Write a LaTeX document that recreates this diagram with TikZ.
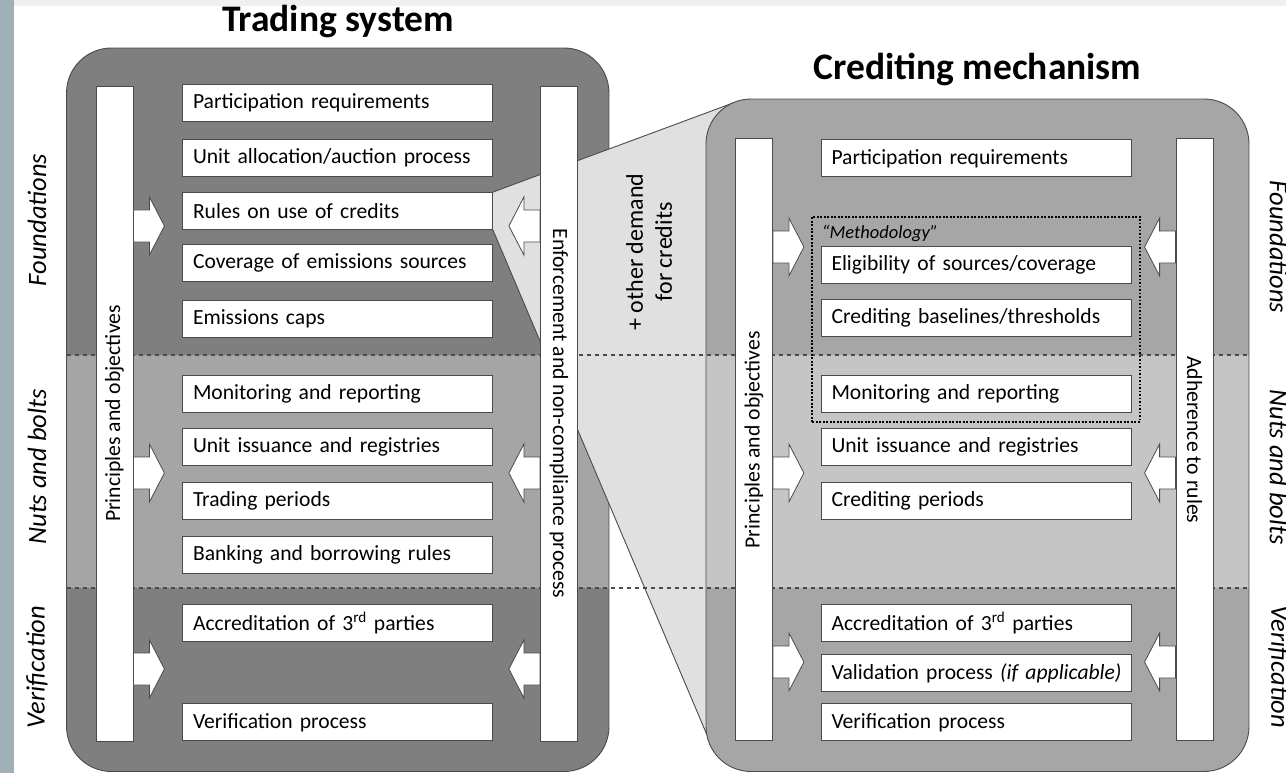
\documentclass[tikz,border=0pt]{standalone}
\usepackage{xcolor}
\usepackage{fontspec}
\setmainfont{Carlito}
\usepackage{tikz}

\definecolor{sideblue}{HTML}{9FB1B7}
\definecolor{topgrey}{HTML}{F0F0F0}
\definecolor{tsdark}{HTML}{7F7F7F}
\definecolor{tsmid}{HTML}{A5A5A5}
\definecolor{cmdark}{HTML}{A6A6A6}
\definecolor{cmlight}{HTML}{C5C5C5}
\definecolor{wedgegrey}{HTML}{E0E0E0}
\definecolor{lineg}{HTML}{4A4A4A}

\pgfdeclarelayer{panels}
\pgfdeclarelayer{seps}
\pgfsetlayers{panels,seps,main}

\begin{document}
\begin{tikzpicture}[x=1pt,y=-1pt]
			\tikzstyle{item} = [draw=lineg, fill=white, line width=0.8pt, text width=289pt, inner xsep=10.5pt, inner ysep=0pt, minimum height=37pt, align=left, font=\fontsize{21.6}{25}\selectfont]
			\tikzstyle{bar} = [draw=lineg, fill=white, line width=0.8pt, minimum height=37pt, inner sep=0pt, font=\fontsize{21.7}{25}\selectfont]
			\tikzstyle{title} = [anchor=base, font=\fontsize{37.5}{42}\selectfont\bfseries]
			\tikzstyle{side} = [font=\fontsize{26.5}{30}\selectfont\itshape]
			\tikzstyle{panel} = [draw=lineg, line width=0.9pt, rounded corners=45pt]
			\tikzstyle{sep} = [draw=lineg, line width=1.1pt, dash pattern=on 4.5pt off 3.5pt]
			\tikzstyle{method} = [draw=black, line width=2.2pt, dash pattern=on 1.8pt off 1.7pt, minimum width=327.7pt, minimum height=205pt]
			\tikzset{blockarrow/.style = {draw=lineg, fill=white, line width=0.8pt}}
			\tikzset{pics/fatarrow/.style = {code={\draw[blockarrow] (0,-16) -- (16,-16) -- (16,-29) -- (31,0) -- (16,29) -- (16,16) -- (0,16) -- cycle;}}}
			
			\useasboundingbox (0,0) rectangle (1286,773);
			\fill[sideblue] (0,0) rectangle (14,773);
			\fill[topgrey] (14,0) rectangle (1286,6);
			
			% titles
			\node[title](tsTitle) at (338,31.7) {Trading system};
			\node[title](cmTitle) at (977.5,80) {Crediting mechanism};
			
			% trading system
			\node[bar, rotate=90, minimum width=655pt](tsPrin)  at (114.5,413.5) {Principles and objectives};
			\node[bar, rotate=-90, minimum width=655pt](tsEnf) at (558.8,413.5) {Enforcement and non-compliance process};
			\node[item](tsPart)   at (337.5,103)   {Participation requirements};
			\node[item](tsAlloc)  at (337.5,158)   {Unit allocation/auction process};
			\node[item](tsRules)  at (337.5,211)   {Rules on use of credits};
			\node[item](tsCover)  at (337.5,263.3) {Coverage of emissions sources};
			\node[item](tsCaps)   at (337.5,318.5) {Emissions caps};
			\node[item](tsMon)    at (337.5,393.7) {Monitoring and reporting};
			\node[item](tsIssue)  at (337.5,447.3) {Unit issuance and registries};
			\node[item](tsPeriod) at (337.5,500.8) {Trading periods};
			\node[item](tsBank)   at (337.5,555)   {Banking and borrowing rules};
			\node[item](tsAccr)   at (337.5,622.8) {Accreditation of 3\textsuperscript{rd} parties};
			\node[item](tsVer)    at (337.5,722.3) {Verification process};
			\pic at (tsPrin.south |- 0,226) {fatarrow};
			\pic at (tsPrin.south |- 0,473) {fatarrow};
			\pic at (tsPrin.south |- 0,669) {fatarrow};
			\pic[rotate=180] at (tsEnf.south |- 0,226) {fatarrow};
			\pic[rotate=180] at (tsEnf.south |- 0,473) {fatarrow};
			\pic[rotate=180] at (tsEnf.south |- 0,669) {fatarrow};
			
			% crediting mechanism
			\node[bar, rotate=90, minimum width=602pt](cmPrin) at (754,439.8)    {Principles and objectives};
			\node[bar, rotate=-90, minimum width=602pt](cmAdh) at (1194.5,439.8) {Adherence to rules};
			\node[method](cmMethod) at (976.2,319.2) {};
			\node[anchor=base west, inner sep=0pt, font=\fontsize{18.5}{21}\selectfont\itshape](cmMethodLbl) at (821.7,238) {“Methodology”};
			\node[item](cmPart)   at (976,158.3) {Participation requirements};
			\node[item](cmElig)   at (976,265)   {Eligibility of sources/coverage};
			\node[item](cmBase)   at (976,318.3) {Crediting baselines/thresholds};
			\node[item](cmMon)    at (976,393.7) {Monitoring and reporting};
			\node[item](cmIssue)  at (976,447.3) {Unit issuance and registries};
			\node[item](cmPeriod) at (976,500.8) {Crediting periods};
			\node[item](cmAccr)   at (976,622.8) {Accreditation of 3\textsuperscript{rd} parties};
			\node[item](cmValid)  at (976,673.3) {\mbox{Validation process \textit{(if applicable)}}};
			\node[item](cmVer)    at (976,722.3) {Verification process};
			\pic at (cmPrin.south |- 0,247) {fatarrow};
			\pic at (cmPrin.south |- 0,473) {fatarrow};
			\pic at (cmPrin.south |- 0,662) {fatarrow};
			\pic[rotate=180] at (cmAdh.south |- 0,247) {fatarrow};
			\pic[rotate=180] at (cmAdh.south |- 0,473) {fatarrow};
			\pic[rotate=180] at (cmAdh.south |- 0,662) {fatarrow};
			
			% demand + side labels
			\node[rotate=90, align=center, font=\fontsize{24}{29}\selectfont](demand) at (649,252) {+ other demand\\for credits};
			\node[side, rotate=90](lFound)  at (37,220)   {Foundations};
			\node[side, rotate=90](lNuts)   at (37,467)   {Nuts and bolts};
			\node[side, rotate=90](lVer)    at (37,667)   {Verification};
			\node[side, rotate=-90](rFound) at (1279,247) {Foundations};
			\node[side, rotate=-90](rNuts)  at (1279,467) {Nuts and bolts};
			\node[side, rotate=-90](rVer)   at (1279,667) {Verification};
			
			% panels and zoom wedge
			\begin{pgfonlayer}{panels}
			\begin{scope}
			\clip[rounded corners=45pt] (66.5,48) rectangle (609,771.5);
			\fill[tsdark] (66.5,48) rectangle (609,771.5);
			\fill[tsmid] (66.5,355) rectangle (609,588);
			\end{scope}
			\draw[panel] (66.5,48) rectangle (609,771.5);
			\coordinate (wedgeTop) at (733,103);
			\coordinate (wedgeBot) at (707,735);
			\fill[wedgegrey] (tsRules.north east) -- (wedgeTop) -- (760,400) -- (wedgeBot) -- (tsRules.south east) -- cycle;
			\draw[lineg, line width=0.9pt] (tsRules.north east) -- (wedgeTop);
			\draw[lineg, line width=0.9pt] (tsRules.south east) -- (wedgeBot);
			\begin{scope}
			\clip[rounded corners=45pt] (706,99) rectangle (1249,771.5);
			\fill[cmdark] (706,99) rectangle (1249,771.5);
			\fill[cmlight] (706,355) rectangle (1249,588);
			\end{scope}
			\draw[panel] (706,99) rectangle (1249,771.5);
			\end{pgfonlayer}
			
			% band separators
			\begin{pgfonlayer}{seps}
			\draw[sep] (66.5,355) -- (1249,355);
			\draw[sep] (66.5,588) -- (1249,588);
			\end{pgfonlayer}
\end{tikzpicture}
\end{document}
